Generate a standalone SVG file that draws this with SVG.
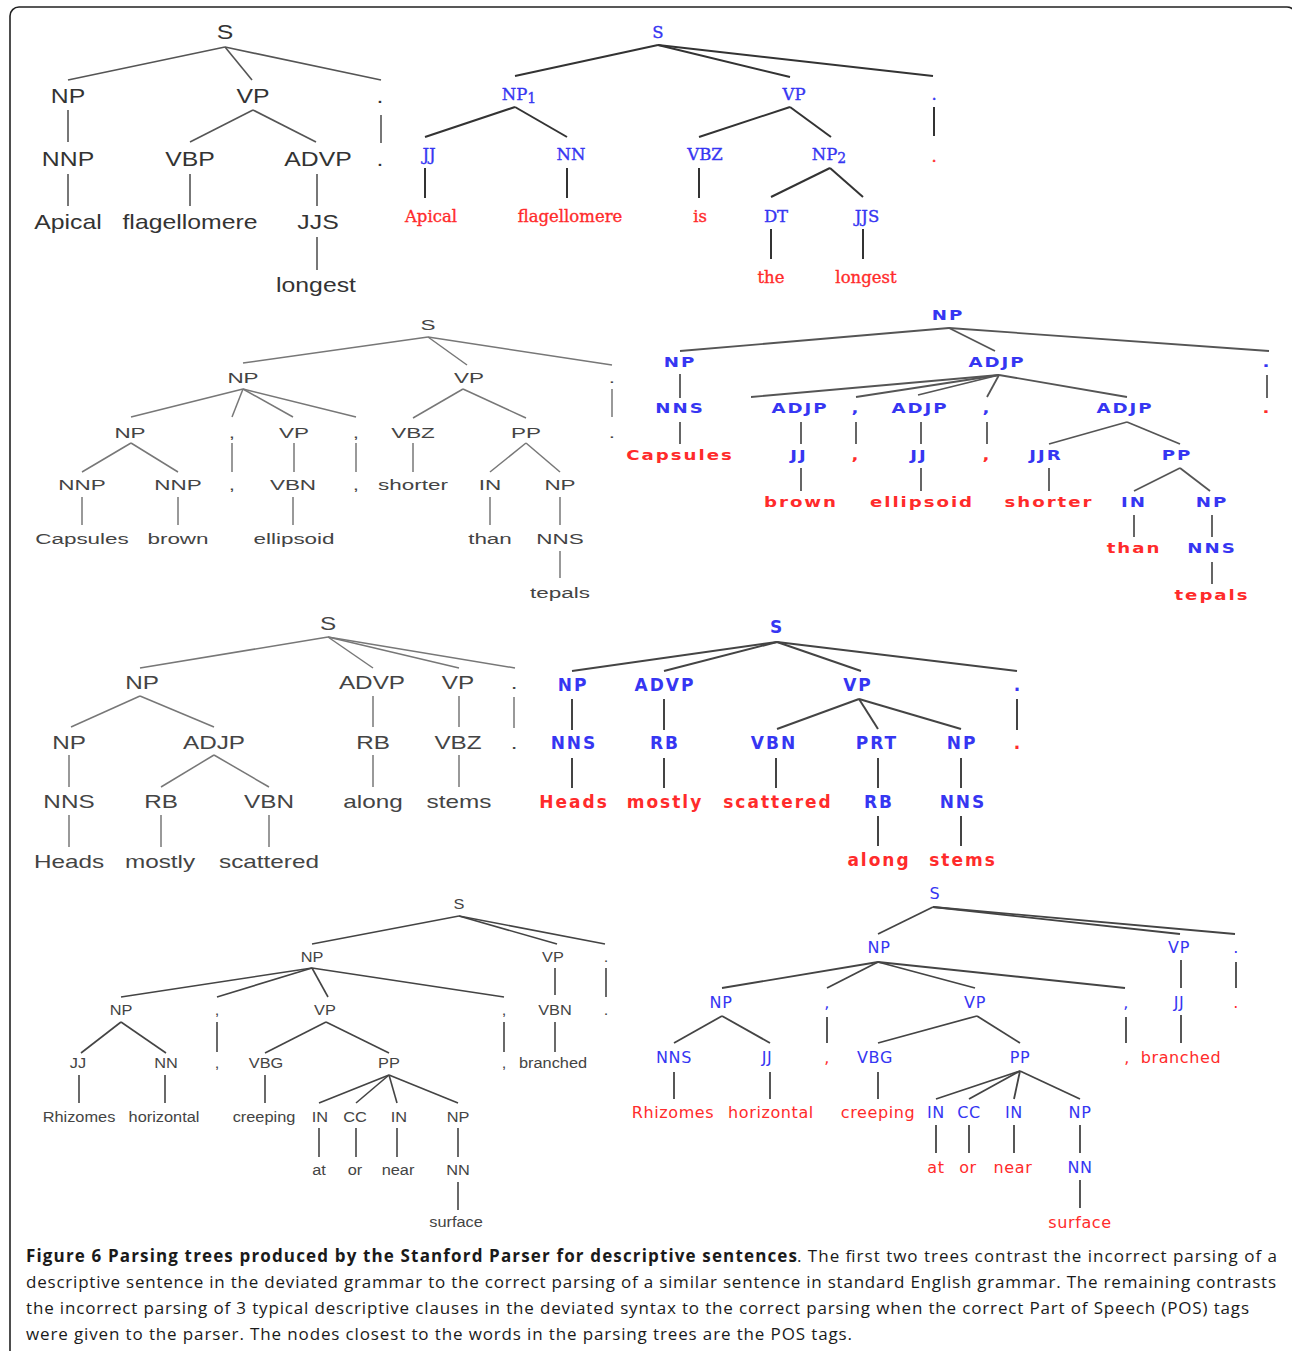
<svg xmlns="http://www.w3.org/2000/svg" width="1292" height="1351" viewBox="0 0 1292 1351">
<style>
text{text-anchor:middle}
.k1{font-family:"Liberation Sans",Arial,sans-serif;font-size:20px;fill:#333}
.k2{font-family:"DejaVu Serif",serif;font-size:16.5px;stroke-width:0.35px}
.k2 .b{stroke:#3636f2}
.k2 .r{stroke:#ff2b2b}
.k3{font-family:"Liberation Sans",Arial,sans-serif;font-size:15.5px;fill:#444}
.k4{font-family:"DejaVu Sans",sans-serif;font-weight:bold;font-size:14px;letter-spacing:1.5px}
.k5{font-family:"Liberation Sans",Arial,sans-serif;font-size:18px;fill:#444}
.k6{font-family:"DejaVu Sans",sans-serif;font-weight:bold;font-size:17px;letter-spacing:2px}
.k7{font-family:"Liberation Sans",Arial,sans-serif;font-size:15px;fill:#444}
.k8{font-family:"DejaVu Sans",sans-serif;font-size:16px;letter-spacing:0.6px}
.b{fill:#3636f2}
.r{fill:#ff2b2b}
.cap text{font-family:"Open Sans","Noto Sans",sans-serif;font-size:17px;fill:#1a1a1a;text-anchor:start}
.e1{stroke:#555;stroke-width:1.6;fill:none}
.e2{stroke:#333;stroke-width:2;fill:none}
.e3{stroke:#777;stroke-width:1.5;fill:none}
.e4{stroke:#555;stroke-width:1.8;fill:none}
.e5{stroke:#777;stroke-width:1.5;fill:none}
.e6{stroke:#444;stroke-width:2;fill:none}
.e7{stroke:#444;stroke-width:1.6;fill:none}
.e8{stroke:#444;stroke-width:1.8;fill:none}
</style>
<rect width="1292" height="1351" fill="#fff"/>
<rect id="frame" x="10" y="7" width="1286" height="1360" rx="9" fill="none" stroke="#222" stroke-width="1.6"/>

<g id="connectors">
<g id="c1" class="e1">
<path d="M225,47L68,80"/><path d="M225,47L252,80"/><path d="M225,47L381,80"/>
<path d="M68,110L68,142"/><path d="M253,110L190,142"/><path d="M253,110L316,142"/><path d="M381,115L381,143"/>
<path d="M68,174L68,206"/><path d="M190,174L190,206"/><path d="M317,174L317,206"/><path d="M317,237L317,270"/>
</g>
<g id="c2" class="e2">
<path d="M658,45L515,76"/><path d="M658,45L790,77"/><path d="M658,45L933,76"/>
<path d="M515,107L425,137"/><path d="M515,107L567,137"/><path d="M790,107L699,137"/><path d="M790,107L831,137"/><path d="M934,107L934,136"/>
<path d="M425,168L425,198"/><path d="M567,168L567,198"/><path d="M699,168L699,198"/><path d="M830,168L771,197"/><path d="M830,168L863,197"/>
<path d="M771,229L771,259"/><path d="M863,229L863,259"/>
</g>
<g id="c3" class="e3">
<path d="M428,337L243,363"/><path d="M428,337L467,365"/><path d="M428,337L612,365"/>
<path d="M243,389L131,417"/><path d="M243,389L232,417"/><path d="M243,389L293,417"/><path d="M243,389L356,417"/>
<path d="M463,389L413,418"/><path d="M463,389L526,418"/><path d="M612,389L612,417"/>
<path d="M131,443L82,472"/><path d="M131,443L178,472"/><path d="M232,443L232,472"/><path d="M294,443L294,472"/><path d="M356,443L356,472"/><path d="M413,443L413,472"/>
<path d="M526,443L490,472"/><path d="M526,443L560,472"/>
<path d="M82,497L82,525"/><path d="M178,497L178,525"/><path d="M293,497L293,525"/><path d="M490,497L490,525"/><path d="M560,497L560,525"/>
<path d="M560,551L560,578"/>
</g>
<g id="c4" class="e4">
<path d="M949,328L680,351"/><path d="M949,328L995,351"/><path d="M949,328L1269,351"/>
<path d="M680,374L680,398"/><path d="M1267,375L1267,398"/>
<path d="M999,375L751,397"/><path d="M999,375L856,397"/><path d="M999,375L918,395"/><path d="M999,375L987,397"/><path d="M999,375L1127,397"/>
<path d="M680,422L680,444"/><path d="M801,422L801,444"/><path d="M856,422L856,444"/><path d="M921,422L921,444"/><path d="M987,422L987,444"/>
<path d="M1127,422L1049,444"/><path d="M1127,422L1180,444"/>
<path d="M801,468L801,491"/><path d="M921,468L921,491"/><path d="M1049,468L1049,491"/>
<path d="M1180,468L1134,491"/><path d="M1180,468L1210,491"/>
<path d="M1134,515L1134,537"/><path d="M1212,515L1212,537"/><path d="M1212,562L1212,584"/>
</g>
<g id="c5" class="e5">
<path d="M328,637L140,668"/><path d="M328,637L373,668"/><path d="M328,637L459,668"/><path d="M328,637L515,668"/>
<path d="M140,696L71,727"/><path d="M140,696L214,727"/><path d="M373,696L373,727"/><path d="M459,696L459,727"/><path d="M514,697L514,728"/>
<path d="M69,755L69,787"/><path d="M214,755L161,787"/><path d="M214,755L269,787"/><path d="M373,755L373,787"/><path d="M459,755L459,787"/>
<path d="M69,815L69,847"/><path d="M161,815L161,847"/><path d="M269,815L269,847"/>
</g>
<g id="c6" class="e6">
<path d="M777,642L572,671"/><path d="M777,642L664,671"/><path d="M777,642L861,671"/><path d="M777,642L1017,671"/>
<path d="M572,699L572,730"/><path d="M664,699L664,730"/><path d="M1017,699L1017,730"/>
<path d="M859,699L777,729"/><path d="M859,699L878,729"/><path d="M859,699L961,729"/>
<path d="M572,758L572,788"/><path d="M664,758L664,788"/><path d="M776,758L776,788"/><path d="M878,758L878,788"/><path d="M961,758L961,788"/>
<path d="M878,816L878,846"/><path d="M961,816L961,846"/>
</g>
<g id="c7" class="e7">
<path d="M459,916L312,944"/><path d="M459,916L557,944"/><path d="M459,916L605,944"/>
<path d="M312,968L121,997"/><path d="M312,968L217,997"/><path d="M312,968L328,997"/><path d="M312,968L504,997"/>
<path d="M555,968L555,995"/><path d="M606,968L606,997"/>
<path d="M121,1022L81,1053"/><path d="M121,1022L166,1053"/><path d="M217,1022L217,1052"/><path d="M504,1022L504,1052"/>
<path d="M326,1022L265,1053"/><path d="M326,1022L389,1053"/><path d="M555,1022L555,1052"/>
<path d="M79,1075L79,1103"/><path d="M165,1075L165,1103"/><path d="M265,1075L265,1103"/>
<path d="M389,1075L319,1103"/><path d="M389,1075L356,1103"/><path d="M389,1075L397,1103"/><path d="M389,1075L458,1103"/>
<path d="M319,1128L319,1157"/><path d="M356,1128L356,1157"/><path d="M397,1128L397,1157"/><path d="M458,1128L458,1157"/>
<path d="M458,1182L458,1210"/>
</g>
<g id="c8" class="e8">
<path d="M933,907L878,934"/><path d="M933,907L1180,934"/><path d="M933,907L1235,934"/>
<path d="M878,962L722,988"/><path d="M878,962L827,988"/><path d="M878,962L975,988"/><path d="M878,962L1125,988"/>
<path d="M1181,960L1181,988"/><path d="M1236,962L1236,988"/>
<path d="M722,1016L674,1043"/><path d="M722,1016L770,1043"/><path d="M827,1017L827,1043"/><path d="M1126,1017L1126,1043"/><path d="M1181,1015L1181,1043"/>
<path d="M977,1016L878,1043"/><path d="M977,1016L1020,1043"/>
<path d="M674,1072L674,1099"/><path d="M770,1072L770,1099"/><path d="M878,1072L878,1099"/>
<path d="M1020,1071L936,1099"/><path d="M1020,1071L969,1099"/><path d="M1020,1071L1014,1099"/><path d="M1020,1071L1080,1099"/>
<path d="M936,1125L936,1153"/><path d="M969,1125L969,1153"/><path d="M1014,1125L1014,1153"/><path d="M1080,1125L1080,1153"/>
<path d="M1080,1180L1080,1208"/>
</g>
</g>

<g id="tree1" class="k1">
<g id="t1-S"><text transform="translate(225,39) scale(1.24,1)">S</text></g>
<g id="t1-NP"><text transform="translate(68,103) scale(1.24,1)">NP</text></g>
<g id="t1-VP"><text transform="translate(253,103) scale(1.24,1)">VP</text></g>
<g id="t1-dot1"><text transform="translate(380,103) scale(1.24,1)">.</text></g>
<g id="t1-NNP"><text transform="translate(68,166) scale(1.24,1)">NNP</text></g>
<g id="t1-VBP"><text transform="translate(190,166) scale(1.24,1)">VBP</text></g>
<g id="t1-ADVP"><text transform="translate(318,166) scale(1.24,1)">ADVP</text></g>
<g id="t1-dot2"><text transform="translate(380,166) scale(1.24,1)">.</text></g>
<g id="t1-Apical"><text transform="translate(68,229) scale(1.24,1)">Apical</text></g>
<g id="t1-flagellomere"><text transform="translate(190,229) scale(1.24,1)">flagellomere</text></g>
<g id="t1-JJS"><text transform="translate(318,229) scale(1.24,1)">JJS</text></g>
<g id="t1-longest"><text transform="translate(316,292) scale(1.24,1)">longest</text></g>
</g>

<g id="tree2" class="k2">
<g id="t2-S"><text class="b" x="658" y="38">S</text></g>
<g id="t2-NP1"><text class="b" x="519" y="100">NP<tspan dy="3" font-size="14">1</tspan></text></g>
<g id="t2-VP"><text class="b" x="794" y="100">VP</text></g>
<g id="t2-dot1"><text class="b" x="934" y="100">.</text></g>
<g id="t2-JJ"><text class="b" x="429" y="160">JJ</text></g>
<g id="t2-NN"><text class="b" x="571" y="160">NN</text></g>
<g id="t2-VBZ"><text class="b" x="705" y="160">VBZ</text></g>
<g id="t2-NP2"><text class="b" x="829" y="160">NP<tspan dy="3" font-size="14">2</tspan></text></g>
<g id="t2-dot2"><text class="r" x="934" y="162">.</text></g>
<g id="t2-Apical"><text class="r" x="431" y="222">Apical</text></g>
<g id="t2-flagellomere"><text class="r" x="570" y="222">flagellomere</text></g>
<g id="t2-is"><text class="r" x="700" y="222">is</text></g>
<g id="t2-DT"><text class="b" x="776" y="222">DT</text></g>
<g id="t2-JJS"><text class="b" x="867" y="222">JJS</text></g>
<g id="t2-the"><text class="r" x="771" y="283">the</text></g>
<g id="t2-longest"><text class="r" x="866" y="283">longest</text></g>
</g>

<g id="tree3" class="k3">
<g id="t3-S"><text transform="translate(428,330) scale(1.45,1)">S</text></g>
<g id="t3-NP"><text transform="translate(243,383) scale(1.45,1)">NP</text></g>
<g id="t3-VP"><text transform="translate(469,383) scale(1.45,1)">VP</text></g>
<g id="t3-dot1"><text transform="translate(612,383) scale(1.45,1)">.</text></g>
<g id="t3-NP2"><text transform="translate(130,438) scale(1.45,1)">NP</text></g>
<g id="t3-com1"><text transform="translate(232,438) scale(1.45,1)">,</text></g>
<g id="t3-VP2"><text transform="translate(294,438) scale(1.45,1)">VP</text></g>
<g id="t3-com2"><text transform="translate(356,438) scale(1.45,1)">,</text></g>
<g id="t3-VBZ"><text transform="translate(413,438) scale(1.45,1)">VBZ</text></g>
<g id="t3-PP"><text transform="translate(526,438) scale(1.45,1)">PP</text></g>
<g id="t3-dot2"><text transform="translate(612,438) scale(1.45,1)">.</text></g>
<g id="t3-NNP1"><text transform="translate(82,490) scale(1.45,1)">NNP</text></g>
<g id="t3-NNP2"><text transform="translate(178,490) scale(1.45,1)">NNP</text></g>
<g id="t3-com3"><text transform="translate(232,490) scale(1.45,1)">,</text></g>
<g id="t3-VBN"><text transform="translate(293,490) scale(1.45,1)">VBN</text></g>
<g id="t3-com4"><text transform="translate(356,490) scale(1.45,1)">,</text></g>
<g id="t3-shorter"><text transform="translate(413,490) scale(1.45,1)">shorter</text></g>
<g id="t3-IN"><text transform="translate(490,490) scale(1.45,1)">IN</text></g>
<g id="t3-NP3"><text transform="translate(560,490) scale(1.45,1)">NP</text></g>
<g id="t3-Capsules"><text transform="translate(82,544) scale(1.45,1)">Capsules</text></g>
<g id="t3-brown"><text transform="translate(178,544) scale(1.45,1)">brown</text></g>
<g id="t3-ellipsoid"><text transform="translate(294,544) scale(1.45,1)">ellipsoid</text></g>
<g id="t3-than"><text transform="translate(490,544) scale(1.45,1)">than</text></g>
<g id="t3-NNS"><text transform="translate(560,544) scale(1.45,1)">NNS</text></g>
<g id="t3-tepals"><text transform="translate(560,598) scale(1.45,1)">tepals</text></g>
</g>

<g id="tree4" class="k4">
<g id="t4-NP"><text class="b" transform="translate(948,320) scale(1.3,1)">NP</text></g>
<g id="t4-NP2"><text class="b" transform="translate(680,367) scale(1.3,1)">NP</text></g>
<g id="t4-ADJP"><text class="b" transform="translate(997,367) scale(1.3,1)">ADJP</text></g>
<g id="t4-dot1"><text class="b" transform="translate(1267,367) scale(1.3,1)">.</text></g>
<g id="t4-NNS"><text class="b" transform="translate(680,413) scale(1.3,1)">NNS</text></g>
<g id="t4-ADJP1"><text class="b" transform="translate(800,413) scale(1.3,1)">ADJP</text></g>
<g id="t4-com1"><text class="b" transform="translate(856,413) scale(1.3,1)">,</text></g>
<g id="t4-ADJP2"><text class="b" transform="translate(920,413) scale(1.3,1)">ADJP</text></g>
<g id="t4-com2"><text class="b" transform="translate(987,413) scale(1.3,1)">,</text></g>
<g id="t4-ADJP3"><text class="b" transform="translate(1125,413) scale(1.3,1)">ADJP</text></g>
<g id="t4-dot2"><text class="r" transform="translate(1267,413) scale(1.3,1)">.</text></g>
<g id="t4-Capsules"><text class="r" transform="translate(680,460) scale(1.3,1)">Capsules</text></g>
<g id="t4-JJ1"><text class="b" transform="translate(799,460) scale(1.3,1)">JJ</text></g>
<g id="t4-com3"><text class="r" transform="translate(856,460) scale(1.3,1)">,</text></g>
<g id="t4-JJ2"><text class="b" transform="translate(919,460) scale(1.3,1)">JJ</text></g>
<g id="t4-com4"><text class="r" transform="translate(987,460) scale(1.3,1)">,</text></g>
<g id="t4-JJR"><text class="b" transform="translate(1046,460) scale(1.3,1)">JJR</text></g>
<g id="t4-PP"><text class="b" transform="translate(1177,460) scale(1.3,1)">PP</text></g>
<g id="t4-brown"><text class="r" transform="translate(801,507) scale(1.3,1)">brown</text></g>
<g id="t4-ellipsoid"><text class="r" transform="translate(922,507) scale(1.3,1)">ellipsoid</text></g>
<g id="t4-shorter"><text class="r" transform="translate(1049,507) scale(1.3,1)">shorter</text></g>
<g id="t4-IN"><text class="b" transform="translate(1134,507) scale(1.3,1)">IN</text></g>
<g id="t4-NP3"><text class="b" transform="translate(1212,507) scale(1.3,1)">NP</text></g>
<g id="t4-than"><text class="r" transform="translate(1134,553) scale(1.3,1)">than</text></g>
<g id="t4-NNS2"><text class="b" transform="translate(1212,553) scale(1.3,1)">NNS</text></g>
<g id="t4-tepals"><text class="r" transform="translate(1212,600) scale(1.3,1)">tepals</text></g>
</g>

<g id="tree5" class="k5">
<g id="t5-S"><text transform="translate(328,630) scale(1.35,1)">S</text></g>
<g id="t5-NP"><text transform="translate(142,689) scale(1.35,1)">NP</text></g>
<g id="t5-ADVP"><text transform="translate(372,689) scale(1.35,1)">ADVP</text></g>
<g id="t5-VP"><text transform="translate(458,689) scale(1.35,1)">VP</text></g>
<g id="t5-dot1"><text transform="translate(514,689) scale(1.35,1)">.</text></g>
<g id="t5-NP2"><text transform="translate(69,749) scale(1.35,1)">NP</text></g>
<g id="t5-ADJP"><text transform="translate(214,749) scale(1.35,1)">ADJP</text></g>
<g id="t5-RB"><text transform="translate(373,749) scale(1.35,1)">RB</text></g>
<g id="t5-VBZ"><text transform="translate(458,749) scale(1.35,1)">VBZ</text></g>
<g id="t5-dot2"><text transform="translate(514,749) scale(1.35,1)">.</text></g>
<g id="t5-NNS"><text transform="translate(69,808) scale(1.35,1)">NNS</text></g>
<g id="t5-RB2"><text transform="translate(161,808) scale(1.35,1)">RB</text></g>
<g id="t5-VBN"><text transform="translate(269,808) scale(1.35,1)">VBN</text></g>
<g id="t5-along"><text transform="translate(373,808) scale(1.35,1)">along</text></g>
<g id="t5-stems"><text transform="translate(459,808) scale(1.35,1)">stems</text></g>
<g id="t5-Heads"><text transform="translate(69,868) scale(1.35,1)">Heads</text></g>
<g id="t5-mostly"><text transform="translate(160,868) scale(1.35,1)">mostly</text></g>
<g id="t5-scattered"><text transform="translate(269,868) scale(1.35,1)">scattered</text></g>
</g>

<g id="tree6" class="k6">
<g id="t6-S"><text class="b" x="777" y="633">S</text></g>
<g id="t6-NP"><text class="b" x="573" y="691">NP</text></g>
<g id="t6-ADVP"><text class="b" x="665" y="691">ADVP</text></g>
<g id="t6-VP"><text class="b" x="858" y="691">VP</text></g>
<g id="t6-dot1"><text class="b" x="1018" y="691">.</text></g>
<g id="t6-NNS"><text class="b" x="574" y="749">NNS</text></g>
<g id="t6-RB"><text class="b" x="665" y="749">RB</text></g>
<g id="t6-VBN"><text class="b" x="774" y="749">VBN</text></g>
<g id="t6-PRT"><text class="b" x="877" y="749">PRT</text></g>
<g id="t6-NP2"><text class="b" x="962" y="749">NP</text></g>
<g id="t6-dot2"><text class="r" x="1018" y="749">.</text></g>
<g id="t6-Heads"><text class="r" x="574" y="808">Heads</text></g>
<g id="t6-mostly"><text class="r" x="665" y="808">mostly</text></g>
<g id="t6-scattered"><text class="r" x="778" y="808">scattered</text></g>
<g id="t6-RB2"><text class="b" x="879" y="808">RB</text></g>
<g id="t6-NNS2"><text class="b" x="963" y="808">NNS</text></g>
<g id="t6-along"><text class="r" x="879" y="866">along</text></g>
<g id="t6-stems"><text class="r" x="963" y="866">stems</text></g>
</g>

<g id="tree7" class="k7">
<g id="t7-S"><text transform="translate(459,909) scale(1.09,1)">S</text></g>
<g id="t7-NP"><text transform="translate(312,962) scale(1.09,1)">NP</text></g>
<g id="t7-VP"><text transform="translate(553,962) scale(1.09,1)">VP</text></g>
<g id="t7-dot1"><text transform="translate(606,962) scale(1.09,1)">.</text></g>
<g id="t7-NP2"><text transform="translate(121,1015) scale(1.09,1)">NP</text></g>
<g id="t7-com1"><text transform="translate(217,1015) scale(1.09,1)">,</text></g>
<g id="t7-VP2"><text transform="translate(325,1015) scale(1.09,1)">VP</text></g>
<g id="t7-com2"><text transform="translate(504,1015) scale(1.09,1)">,</text></g>
<g id="t7-VBN"><text transform="translate(555,1015) scale(1.09,1)">VBN</text></g>
<g id="t7-dot2"><text transform="translate(606,1015) scale(1.09,1)">.</text></g>
<g id="t7-JJ"><text transform="translate(78,1068) scale(1.09,1)">JJ</text></g>
<g id="t7-NN"><text transform="translate(166,1068) scale(1.09,1)">NN</text></g>
<g id="t7-com3"><text transform="translate(217,1068) scale(1.09,1)">,</text></g>
<g id="t7-VBG"><text transform="translate(266,1068) scale(1.09,1)">VBG</text></g>
<g id="t7-PP"><text transform="translate(389,1068) scale(1.09,1)">PP</text></g>
<g id="t7-com4"><text transform="translate(504,1068) scale(1.09,1)">,</text></g>
<g id="t7-branched"><text transform="translate(553,1068) scale(1.09,1)">branched</text></g>
<g id="t7-Rhizomes"><text transform="translate(79,1122) scale(1.09,1)">Rhizomes</text></g>
<g id="t7-horizontal"><text transform="translate(164,1122) scale(1.09,1)">horizontal</text></g>
<g id="t7-creeping"><text transform="translate(264,1122) scale(1.09,1)">creeping</text></g>
<g id="t7-IN1"><text transform="translate(320,1122) scale(1.09,1)">IN</text></g>
<g id="t7-CC"><text transform="translate(355,1122) scale(1.09,1)">CC</text></g>
<g id="t7-IN2"><text transform="translate(399,1122) scale(1.09,1)">IN</text></g>
<g id="t7-NP3"><text transform="translate(458,1122) scale(1.09,1)">NP</text></g>
<g id="t7-at"><text transform="translate(319,1175) scale(1.09,1)">at</text></g>
<g id="t7-or"><text transform="translate(355,1175) scale(1.09,1)">or</text></g>
<g id="t7-near"><text transform="translate(398,1175) scale(1.09,1)">near</text></g>
<g id="t7-NN2"><text transform="translate(458,1175) scale(1.09,1)">NN</text></g>
<g id="t7-surface"><text transform="translate(456,1227) scale(1.09,1)">surface</text></g>
</g>

<g id="tree8" class="k8">
<g id="t8-S"><text class="b" x="935" y="899">S</text></g>
<g id="t8-NP"><text class="b" x="879" y="953">NP</text></g>
<g id="t8-VP"><text class="b" x="1179" y="953">VP</text></g>
<g id="t8-dot1"><text class="b" x="1236" y="953">.</text></g>
<g id="t8-NP2"><text class="b" x="721" y="1008">NP</text></g>
<g id="t8-com1"><text class="b" x="827" y="1008">,</text></g>
<g id="t8-VP2"><text class="b" x="975" y="1008">VP</text></g>
<g id="t8-com2"><text class="b" x="1126" y="1008">,</text></g>
<g id="t8-JJ"><text class="b" x="1179" y="1008">JJ</text></g>
<g id="t8-dot2"><text class="r" x="1236" y="1008">.</text></g>
<g id="t8-NNS"><text class="b" x="674" y="1063">NNS</text></g>
<g id="t8-JJ2"><text class="b" x="767" y="1063">JJ</text></g>
<g id="t8-com3"><text class="r" x="827" y="1063">,</text></g>
<g id="t8-VBG"><text class="b" x="875" y="1063">VBG</text></g>
<g id="t8-PP"><text class="b" x="1020" y="1063">PP</text></g>
<g id="t8-com4"><text class="r" x="1127" y="1063">,</text></g>
<g id="t8-branched"><text class="r" x="1181" y="1063">branched</text></g>
<g id="t8-Rhizomes"><text class="r" x="673" y="1118">Rhizomes</text></g>
<g id="t8-horizontal"><text class="r" x="771" y="1118">horizontal</text></g>
<g id="t8-creeping"><text class="r" x="878" y="1118">creeping</text></g>
<g id="t8-IN1"><text class="b" x="936" y="1118">IN</text></g>
<g id="t8-CC"><text class="b" x="969" y="1118">CC</text></g>
<g id="t8-IN2"><text class="b" x="1014" y="1118">IN</text></g>
<g id="t8-NP3"><text class="b" x="1080" y="1118">NP</text></g>
<g id="t8-at"><text class="r" x="936" y="1173">at</text></g>
<g id="t8-or"><text class="r" x="968" y="1173">or</text></g>
<g id="t8-near"><text class="r" x="1013" y="1173">near</text></g>
<g id="t8-NN"><text class="b" x="1080" y="1173">NN</text></g>
<g id="t8-surface"><text class="r" x="1080" y="1228">surface</text></g>
</g>

<g id="caption" class="cap">
<text x="26" y="1262" font-weight="bold" textLength="771">Figure 6 Parsing trees produced by the Stanford Parser for descriptive sentences</text>
<text x="797" y="1262" textLength="480">. The first two trees contrast the incorrect parsing of a</text>
<text x="26" y="1288" textLength="1250">descriptive sentence in the deviated grammar to the correct parsing of a similar sentence in standard English grammar. The remaining contrasts</text>
<text x="26" y="1314" textLength="1223">the incorrect parsing of 3 typical descriptive clauses in the deviated syntax to the correct parsing when the correct Part of Speech (POS) tags</text>
<text x="26" y="1340" textLength="826">were given to the parser. The nodes closest to the words in the parsing trees are the POS tags.</text>
</g>
</svg>
